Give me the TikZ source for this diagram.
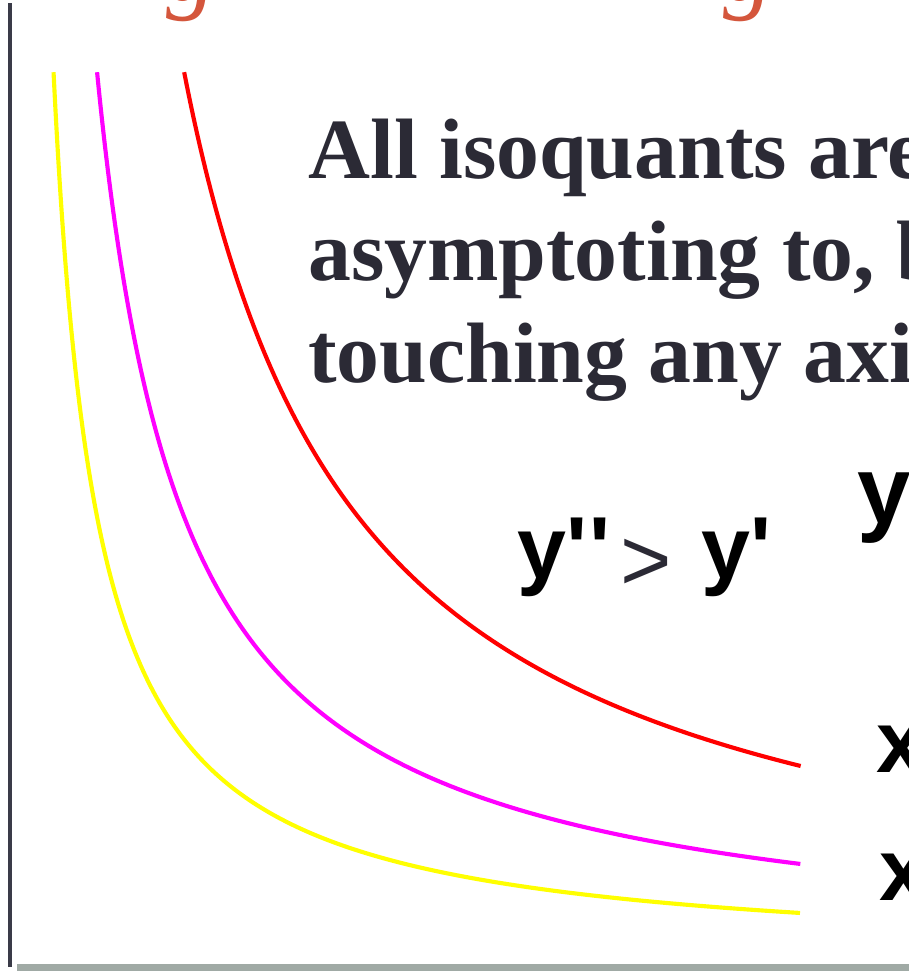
\documentclass[tikz,border=0pt]{standalone}
\usepackage{fontspec}
\newfontfamily\tnr{Liberation Serif}
\newfontfamily\ars{Liberation Sans}
\definecolor{txtdark}{RGB}{43,42,53}
\definecolor{axisdark}{RGB}{58,59,72}
\definecolor{axisgray}{RGB}{160,170,165}
\definecolor{titlered}{RGB}{212,86,60}
\definecolor{curveyellow}{RGB}{255,255,0}
\definecolor{curvemagenta}{RGB}{255,0,255}
\definecolor{curvered}{RGB}{255,0,0}
\tikzset{
  isocurve/.style={line width=3.1pt, line cap=butt},
  bigserif/.style={inner sep=0pt, anchor=base west, text=txtdark, font=\tnr\bfseries\fontsize{64.3pt}{77pt}\selectfont},
  sanslabel/.style={inner sep=0pt, anchor=base west, text=black, font=\ars\bfseries\fontsize{66pt}{78pt}\selectfont},
  titleglyph/.style={inner sep=0pt, anchor=base, text=titlered, font=\tnr\itshape\fontsize{75pt}{90pt}\selectfont}
}
\begin{document}
\begin{tikzpicture}[x=0.75pt, y=-0.75pt]
\useasboundingbox (0,0) rectangle (909,972);
\clip (0,0) rectangle (909,972);
\fill[white] (0,0) rectangle (909,972);

% cut-off title glyphs
\node[titleglyph] (g1) at (191,0) {g};
\node[titleglyph] (g2) at (748,0) {g};

% axes
\coordinate (ytop) at (10,3);
\coordinate (ybot) at (10,967);
\coordinate (xleft) at (17,967.5);
\coordinate (xright) at (909,967.5);
\draw[axisdark, line width=3.4pt] (ytop) -- (ybot);
\draw[axisgray, line width=5.2pt] (xleft) -- (xright);

% isoquants: (x-10)(962-y) = K, K = 38750, 77500, 155000
\draw[curveyellow, isocurve] plot[domain=3.774:6.673, samples=90, smooth, variable=\s] ({10+exp(\s)}, {962-exp(10.565-\s)});
\draw[curvemagenta, isocurve] plot[domain=4.467:6.673, samples=90, smooth, variable=\s] ({10+exp(\s)}, {962-exp(11.258-\s)});
\draw[curvered, isocurve] plot[domain=5.160:6.673, samples=90, smooth, variable=\s] ({10+exp(\s)}, {962-exp(11.951-\s)});

% text block
\node[bigserif] (line1) at (308,178) {All isoquants are};
\node[bigserif] (line2) at (308,280) {asymptoting to, b};
\node[bigserif] (line3) at (308,382) {touching any axi};

% labels
\node[sanslabel] (ydd) at (517,578) {y\char"27\kern2pt\char"27};
\node[inner sep=0pt, text=txtdark, font=\ars\fontsize{66pt}{78pt}\selectfont] (gt) at (646,565) {>};
\node[sanslabel] (yd) at (701,578) {y\char"27};
\node[sanslabel, font=\ars\bfseries\fontsize{72pt}{86pt}\selectfont] (ybig) at (857,523) {y};
\node[sanslabel] (x1) at (876,772) {x};
\node[sanslabel] (x2) at (879,900) {x};
\end{tikzpicture}
\end{document}
